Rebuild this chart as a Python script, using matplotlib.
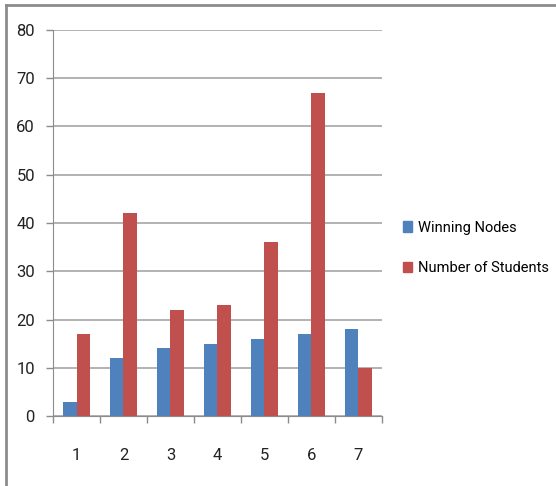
import matplotlib
matplotlib.use("Agg")
import matplotlib.pyplot as plt
import numpy as np
from matplotlib.lines import Line2D
from matplotlib.patches import Rectangle

categories = ["1", "2", "3", "4", "5", "6", "7"]
winning_nodes = [3, 12, 14, 15, 16, 17, 18]
num_students = [17, 42, 22, 23, 36, 67, 10]
y_ticks = [0, 10, 20, 30, 40, 50, 60, 70, 80]

plt.rcParams['font.family'] = ['Roboto', 'DejaVu Sans']

fig = plt.figure(figsize=(5.56, 4.86), dpi=100)
ax = fig.add_axes([53/556, 1-416/486, (382-53)/556, (416-30)/486])

x = np.arange(len(categories))
w = 0.277
blue = '#4F81BD'
red = '#C0504D'
ax.bar(x - w/2, winning_nodes, w, color=blue, label='Winning Nodes', zorder=3)
ax.bar(x + w/2, num_students, w, color=red, label='Number of Students', zorder=3)

ax.set_xlim(-0.5, len(categories) - 0.5)
ax.set_ylim(0, 80)
ax.set_yticks(y_ticks)
ax.set_yticklabels([str(v) for v in y_ticks], fontsize=12, color='#222222')
ax.set_xticks(x)
ax.set_xticklabels(categories, fontsize=12, color='#222222')
ax.tick_params(axis='x', length=0, pad=23)
ax.tick_params(axis='y', length=5, width=1, color='#8c8c8c', pad=8)
ax.set_xticks(np.arange(-0.5, len(categories) + 0.5, 1), minor=True)
ax.tick_params(axis='x', which='minor', length=5, width=1, color='#8c8c8c')

ax.grid(axis='y', color='#a6a6a6', linewidth=1.2, zorder=0)
for s in ['top', 'right']:
    ax.spines[s].set_visible(False)
ax.spines['left'].set_color('#8c8c8c')
ax.spines['bottom'].set_color('#8c8c8c')
ax.spines['bottom'].set_zorder(4)

handles = [Rectangle((0, 0), 1, 1, color=blue), Rectangle((0, 0), 1, 1, color=red)]
leg = fig.legend(handles, ['Winning Nodes', 'Number of Students'],
                 loc='center left', bbox_to_anchor=(396/556, 1-248/486),
                 frameon=False, fontsize=10.5, handlelength=0.6, handleheight=0.7,
                 handletextpad=0.4, labelspacing=1.85, borderpad=0)

fig.add_artist(Line2D([6/556, 6/556], [0, 1-5/486], transform=fig.transFigure, color='#8c8c8c', linewidth=2))
fig.add_artist(Line2D([6/556, 1], [1-5/486, 1-5/486], transform=fig.transFigure, color='#8c8c8c', linewidth=2))

fig.savefig('out.png', dpi=100)
